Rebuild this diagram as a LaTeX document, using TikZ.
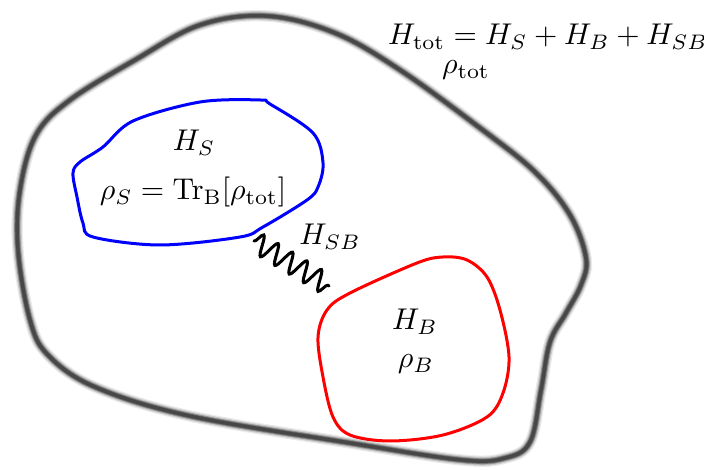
\documentclass[tikz,border=0pt]{standalone}
\usetikzlibrary{decorations.pathmorphing}
\begin{document}
\begin{tikzpicture}[x=0.3333pt,y=-0.3333pt,
  blob/.style={line width=1pt, line join=round},
  lbl/.style={anchor=base, inner sep=0pt}]
\useasboundingbox (0,0) rectangle (704,470);
\def\outerpath{plot[smooth cycle, tension=0.6] coordinates {(267,16) (335,33) (400,70) (480,128) (535,172) (570,215) (586,258) (581,285) (566,313) (550,342) (541,390) (530,442) (505,458) (462,460) (350,443) (190,416) (95,387) (48,355) (30,320) (18,250) (20,190) (36,135) (70,100) (135,60) (200,25)}}
% blurred outer boundary
\draw[black!8, line width=3.8pt] \outerpath;
\draw[black!20, line width=3.0pt] \outerpath;
\draw[black!40, line width=2.2pt] \outerpath;
\draw[black!60, line width=1.6pt] \outerpath;
\draw[black!72, line width=1.1pt] \outerpath;
% system blob
\draw[blob, blue] plot[smooth cycle, tension=0.55] coordinates {(133,121) (200,102) (260,100) (270,104) (313,133) (323,163) (318,187) (307,200) (263,227) (240,237) (160,245) (93,237) (83,223) (77,197) (73,173) (80,162) (103,147)};
% bath blob
\draw[blob, red] plot[smooth cycle, tension=0.55] coordinates {(443,257) (417,263) (350,293) (327,310) (318,337) (323,377) (333,417) (350,435) (390,441) (443,435) (487,417) (503,393) (509,357) (500,310) (487,277) (467,260)};
% coupling
\coordinate (w1) at (254,241);
\coordinate (w2) at (329,286);
\draw[line width=1pt, line cap=round, decorate, decoration={snake, amplitude=3.4pt, segment length=5.6pt}] (w1) -- (w2);
% labels
\node[lbl] (htot) at (548,45) {$H_{\mathrm{tot}} = H_S + H_B + H_{SB}$};
\node[lbl] (rtot) at (466,74) {$\rho_{\mathrm{tot}}$};
\node[lbl] (hs) at (194,151) {$H_S$};
\node[lbl] (rs) at (193,200) {$\rho_S = \mathrm{Tr}_{\mathrm{B}}[\rho_{\mathrm{tot}}]$};
\node[lbl] (hsb) at (330,245) {$H_{SB}$};
\node[lbl] (hb) at (415,330) {$H_B$};
\node[lbl] (rb) at (416,368) {$\rho_B$};
\end{tikzpicture}
\end{document}
